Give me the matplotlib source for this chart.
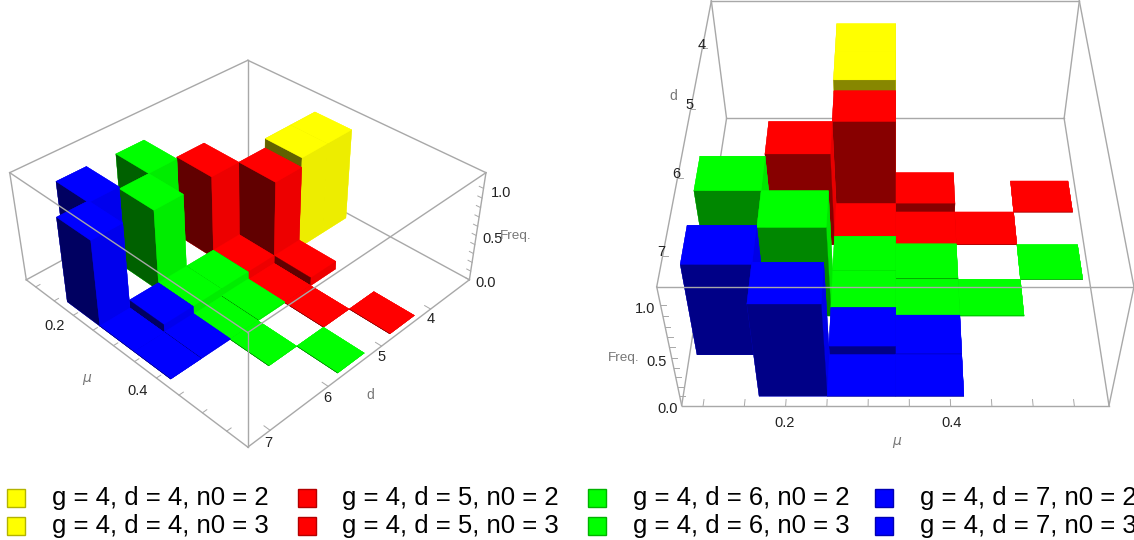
import numpy as np
import matplotlib
matplotlib.use("Agg")
import matplotlib.pyplot as plt
from matplotlib.patches import Rectangle

plt.rcParams['font.family'] = ['Liberation Sans', 'DejaVu Sans']

# mu bins, left edges (width 1/12)
mu_edges = [1/12, 2/12, 3/12, 4/12, 5/12, 6/12]
# d rows, back edge of each row (depth 0.5)
row_start = [3.25, 3.75, 4.25, 4.75, 5.25, 5.75, 6.25, 6.75]
row_color = ['#ffff00', '#ffff00', '#ff0000', '#ff0000',
             '#00ff00', '#00ff00', '#0000ff', '#0000ff']

# frequency per row, per mu bin
d4_a = [0, 0, 1.0, 0, 0, 0]
d4_b = [0, 0, 1.0, 0, 0, 0]
d5_a = [0, 0, 0.9, 0.09, 0, 0.001]
d5_b = [0, 0.9, 0.09, 0.001, 0.001, 0]
d6_a = [0.88, 0, 0.09, 0.01, 0, 0.001]
d6_b = [0, 0.88, 0.09, 0.001, 0.001, 0]
d7_a = [0.9, 0, 0.09, 0.01, 0, 0]
d7_b = [0, 0.92, 0.001, 0.001, 0, 0]
freq = [d4_a, d4_b, d5_a, d5_b, d6_a, d6_b, d7_a, d7_b]

mu_lim = (0.074, 0.592)
d_lim = (7.36, 3.15)   # reversed, 4 at the back
z_lim = (0, 1.16)

mu_ticks = [0.2, 0.4]
d_ticks = [4, 5, 6, 7]
z_ticks = [0.0, 0.5, 1.0]

legend_d = [4, 5, 6, 7]
legend_n0 = [2, 3]
legend_col = ['#ffff00', '#ff0000', '#00ff00', '#0000ff']

GRAY = '#a8a8a8'
TXT = '#222222'


def scale_col(c, f):
    rgb = np.array(matplotlib.colors.to_rgb(c)) * f
    return tuple(rgb)


def draw_bars(ax, dark, side, order):
    z = 5
    cells = []
    for r in range(len(row_start)):
        for m in range(len(mu_edges)):
            if freq[r][m] > 0:
                cells.append((r, m))
    cells.sort(key=order)
    for r, m in cells:
        c = row_color[r]
        # faces: -z, +z, back, front (+d), -x, +x
        cols = [scale_col(c, 1), scale_col(c, 1), scale_col(c, 1),
                scale_col(c, dark), scale_col(c, side), scale_col(c, side)]
        ax.bar3d(mu_edges[m], row_start[r], 0, 1/12, 0.5, freq[r][m], color=cols,
                 shade=False, edgecolor=cols, linewidth=0.2, zorder=z)
        z += 1


def seg(ax, a, b, front=False, lw=1.0):
    zo = 1000 if front else 1
    ax.plot([a[0], b[0]], [a[1], b[1]], [a[2], b[2]], color=GRAY, lw=lw, zorder=zo)


def setup(ax, elev, azim, focal):
    ax.set_proj_type('persp', focal_length=focal)
    ax.view_init(elev=elev, azim=azim)
    ax.set_xlim(mu_lim)
    ax.set_ylim(d_lim)
    ax.set_zlim(z_lim)
    ax.computed_zorder = False
    ax.set_axis_off()
    ax.patch.set_alpha(0)


fig = plt.figure(figsize=(11.34, 5.4), dpi=100)
W, H = 1134.0, 540.0

x0, x1 = mu_lim
y1, y0 = d_lim  # y0 back, y1 front
zt = z_lim[1]

# ---- left view
ax1 = fig.add_axes([(240-290)/W, 1-(236+290)/H, 580/W, 580/H], projection='3d')
ax1.set_box_aspect((1, 1, 0.41), zoom=0.80)
draw_bars(ax1, 0.38, 0.93, lambda t: (t[0], t[1]))
# floor and back edges sit behind the bars
seg(ax1, (x0, y0, 0), (x1, y0, 0))
seg(ax1, (x0, y0, 0), (x0, y1, 0))
seg(ax1, (x0, y0, 0), (x0, y0, zt))
seg(ax1, (x0, y0, zt), (x1, y0, zt))
seg(ax1, (x0, y0, zt), (x0, y1, zt))
seg(ax1, (x1, y0, 0), (x1, y0, zt))
seg(ax1, (x0, y1, 0), (x0, y1, zt))
seg(ax1, (x0, y1, 0), (x1, y1, 0))
seg(ax1, (x1, y1, 0), (x1, y0, 0))
seg(ax1, (x1, y1, 0), (x1, y1, zt), True)
seg(ax1, (x0, y1, zt), (x1, y1, zt), True)
seg(ax1, (x1, y1, zt), (x1, y0, zt), True)
for t in np.arange(0.1, 0.6, 0.05):
    seg(ax1, (t, y1, 0), (t, y1-0.07, 0), lw=0.7)
for t in d_ticks:
    seg(ax1, (x1, t, 0), (x1-0.012, t, 0), lw=0.7)
for t in np.arange(0, 1.01, 0.1):
    seg(ax1, (x1, y0, t), (x1-0.008, y0, t), lw=0.7)
for t in mu_ticks:
    ax1.text(t, y1+0.3, 0, '%.1f' % t, ha='center', va='center', fontsize=10.5, color=TXT, zorder=1001)
for t in d_ticks:
    ax1.text(x1+0.015, t+0.15, 0, str(t), ha='center', va='center', fontsize=10.5, color=TXT, zorder=1001)
for t in z_ticks:
    ax1.text(x1+0.01, y0-0.3, t-0.12, '%.1f' % t, ha='center', va='center', fontsize=10.5, color=TXT, zorder=1001)
ax1.text(0.33, y1+0.6, 0, r'$\mu$', ha='center', va='center', fontsize=10, color='#777777', zorder=1001)
ax1.text(x1+0.055, 5.75, 0, 'd', ha='center', va='center', fontsize=10, color='#777777', zorder=1001)
ax1.text(x1+0.01, y0-0.9, 0.2, 'Freq.', ha='center', va='center', fontsize=9.7, color='#777777', zorder=1001)

# ---- right view
ax2 = fig.add_axes([(887.5-290)/W, 1-(196+290)/H, 580/W, 580/H], projection='3d')
ax2.set_box_aspect((1, 1.03, 0.42), zoom=0.99)
xc = (x0 + x1) / 2
draw_bars(ax2, 0.53, 0.9, lambda t: (t[0], -abs(mu_edges[t[1]] + 1/24 - xc)))
seg(ax2, (x0, y0, 0), (x1, y0, 0))
seg(ax2, (x0, y0, 0), (x0, y1, 0))
seg(ax2, (x1, y0, 0), (x1, y1, 0))
seg(ax2, (x0, y0, 0), (x0, y0, zt))
seg(ax2, (x1, y0, 0), (x1, y0, zt))
seg(ax2, (x0, y0, zt), (x1, y0, zt))
seg(ax2, (x0, y1, 0), (x1, y1, 0))
seg(ax2, (x0, y1, 0), (x0, y1, zt), True)
seg(ax2, (x1, y1, 0), (x1, y1, zt), True)
seg(ax2, (x0, y1, zt), (x1, y1, zt), True)
seg(ax2, (x0, y0, zt), (x0, y1, zt), True)
seg(ax2, (x1, y0, zt), (x1, y1, zt), True)
for t in np.arange(0.1, 0.6, 0.05):
    seg(ax2, (t, y1, 0), (t, y1-0.07, 0), lw=0.7)
for t in d_ticks:
    seg(ax2, (x0, t, zt), (x0+0.006, t, zt), lw=0.7)
for t in np.arange(0, 1.01, 0.1):
    seg(ax2, (x0, y1, t), (x0+0.006, y1, t), lw=0.7)
for t in mu_ticks:
    ax2.text(t, y1+0.2, 0, '%.1f' % t, ha='center', va='center', fontsize=10.5, color=TXT, zorder=1001)
for t in d_ticks:
    ax2.text(x0-0.002, t-0.05, zt, str(t), ha='center', va='center', fontsize=10.5, color=TXT, zorder=1001)
for t in z_ticks:
    ax2.text(x0-0.018, y1, t-0.04, '%.1f' % t, ha='center', va='center', fontsize=10.5, color=TXT, zorder=1001)
ax2.text(0.335, y1+0.42, 0, r'$\mu$', ha='center', va='center', fontsize=10, color='#777777', zorder=1001)
ax2.text(x0-0.025, 4.8, zt, 'd', ha='center', va='center', fontsize=10, color='#777777', zorder=1001)
ax2.text(x0-0.056, y1, 0.5, 'Freq.', ha='center', va='center', fontsize=9.7, color='#777777', zorder=1001)

setup(ax1, 36.5, -45, 0.35)
setup(ax2, 44, -90, 0.38)

# ---- legend
swatch_x = [7, 298, 588, 875]
text_x = [52, 342, 633, 920]
row_y = [489, 517]
for i in range(4):
    for j in range(2):
        fig.add_artist(Rectangle((swatch_x[i]/W, 1-(row_y[j]+18)/H), 18/W, 18/H,
                                 transform=fig.transFigure, facecolor=legend_col[i],
                                 edgecolor=scale_col(legend_col[i], 0.7), lw=1))
        fig.text(text_x[i]/W, 1-(row_y[j]+9)/H,
                 'g = 4, d = %d, n0 = %d' % (legend_d[i], legend_n0[j]),
                 fontsize=18.5, ha='left', va='center', color='black')

fig.savefig('out.png', dpi=100)
